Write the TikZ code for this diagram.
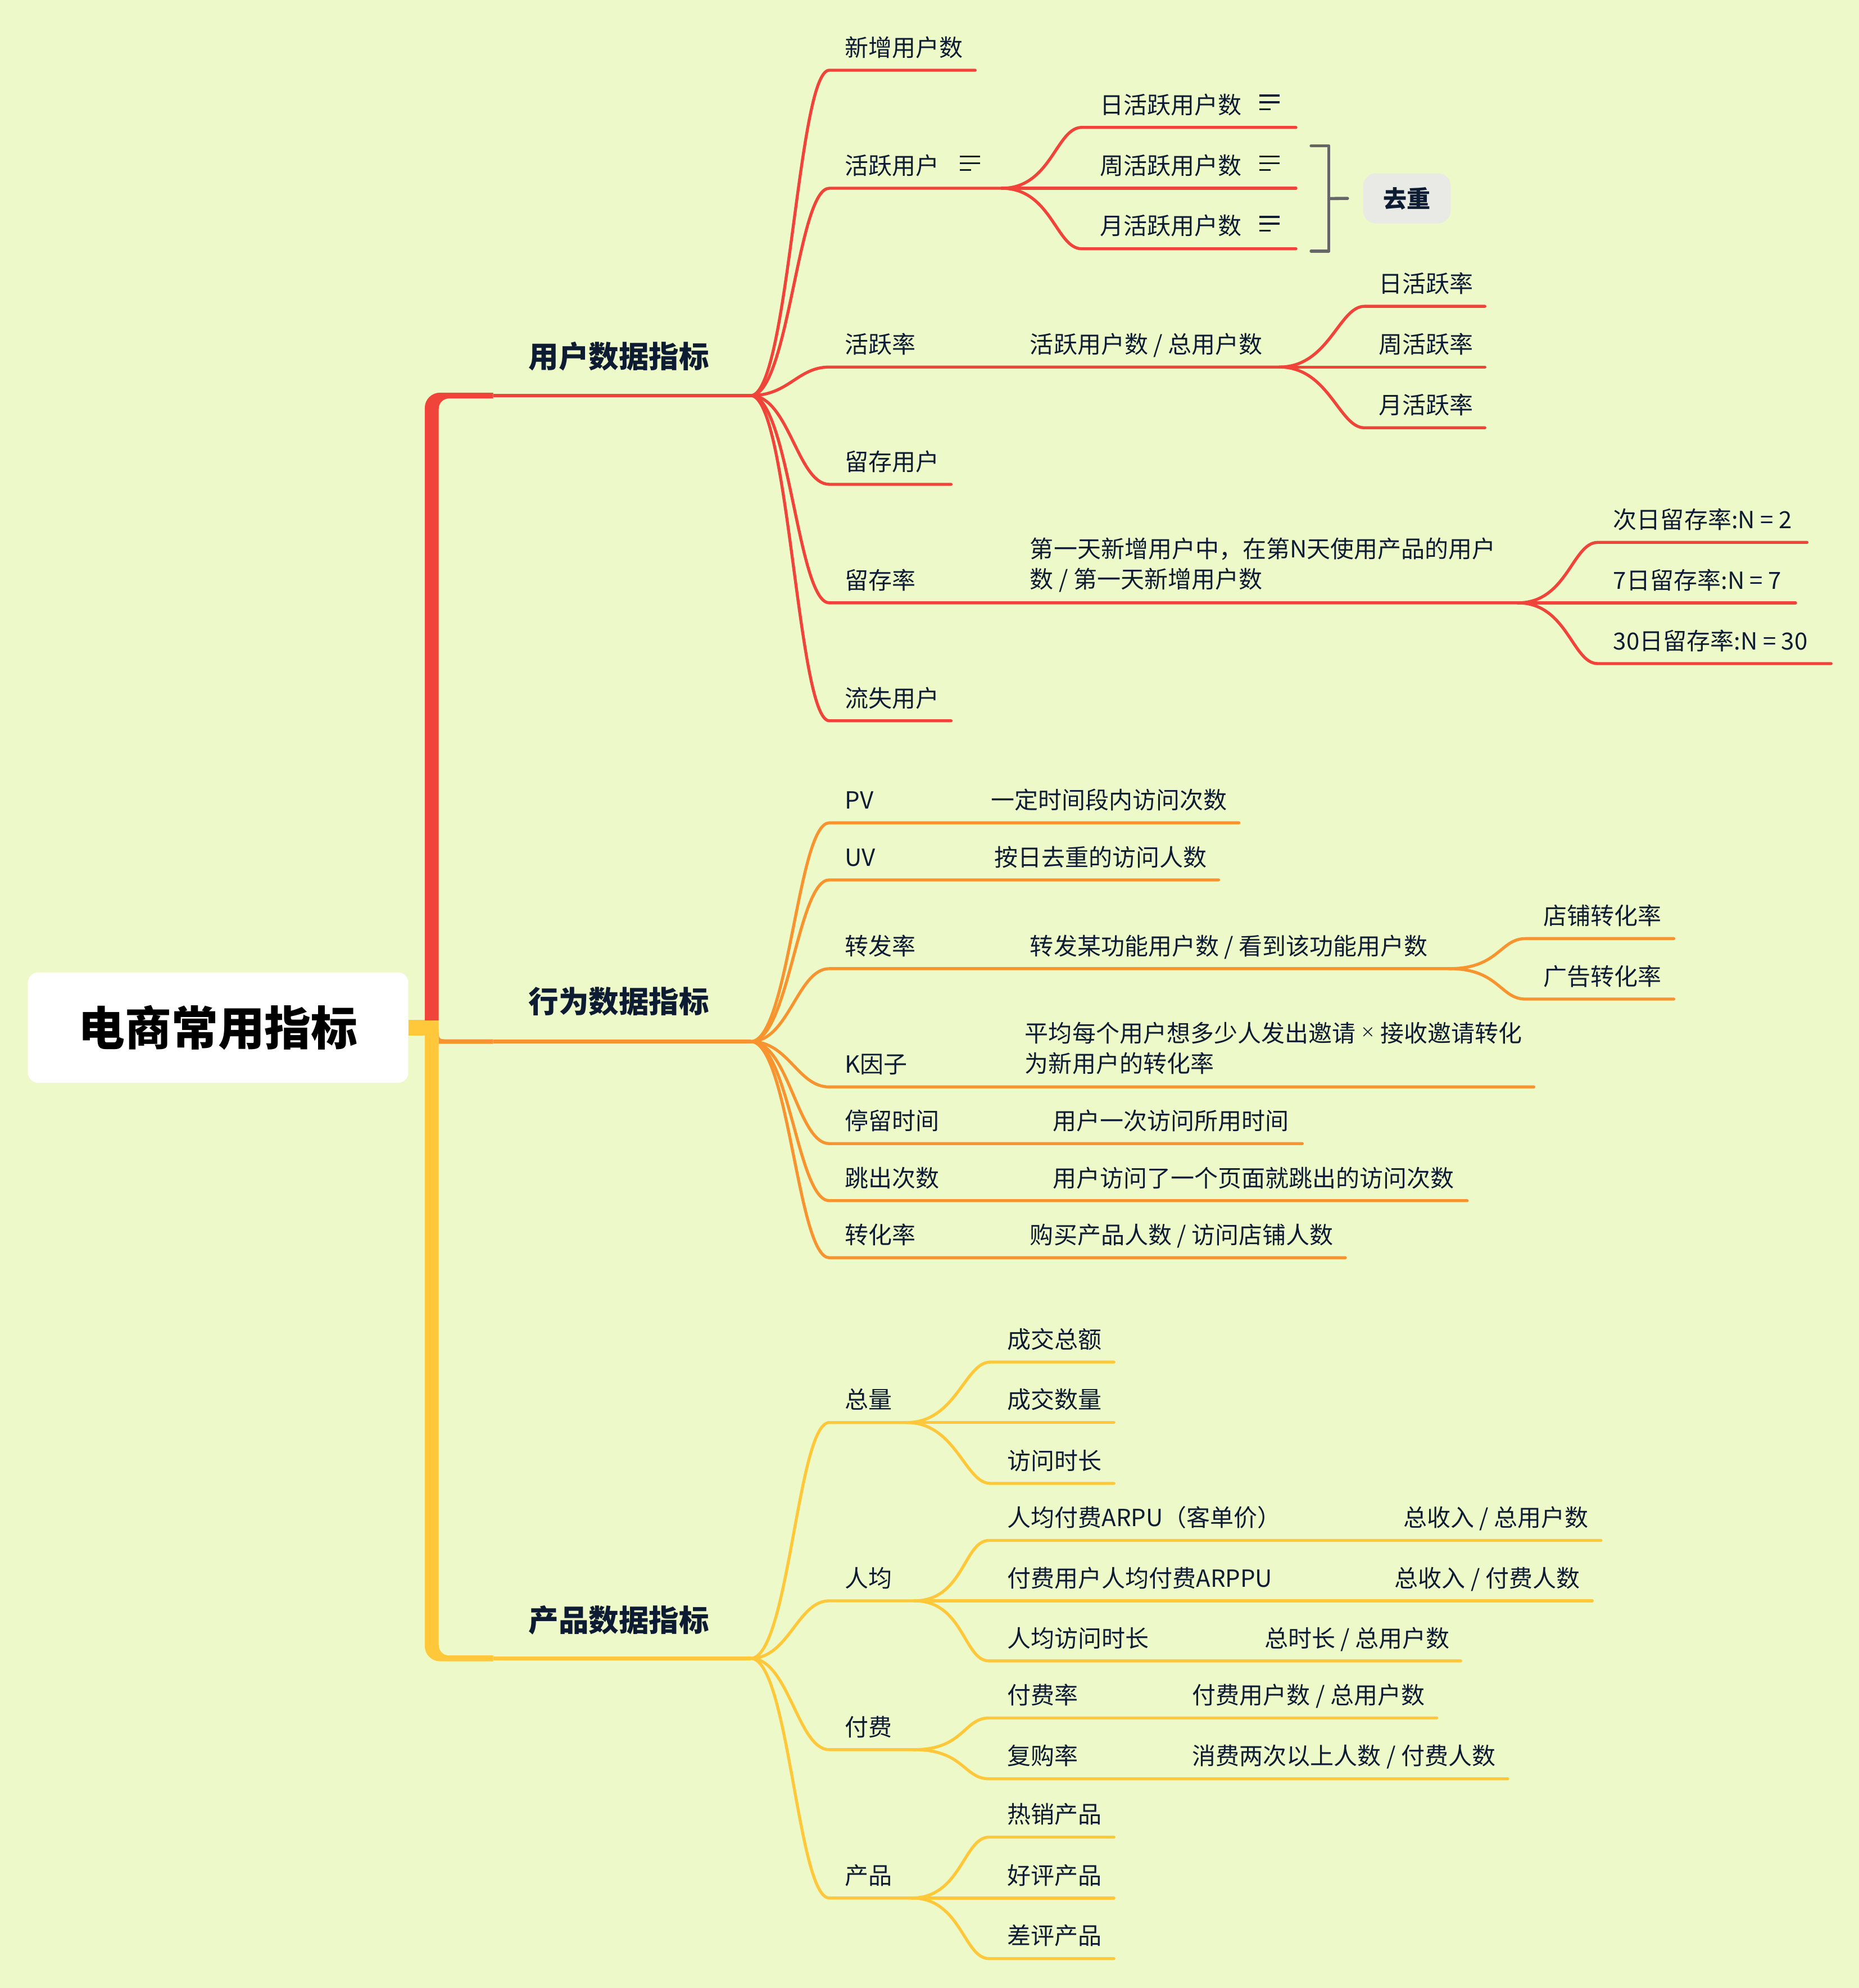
\documentclass[tikz,border=0pt]{standalone}
\usepackage{fontspec}
\setmainfont{Noto Sans CJK SC}
\usetikzlibrary{calc}

\definecolor{paper}{HTML}{EEF9C9}
\definecolor{redbr}{HTML}{F0443A}
\definecolor{orangebr}{HTML}{F8942F}
\definecolor{yellowbr}{HTML}{FEC83A}
\definecolor{ink}{HTML}{0E1C33}
\definecolor{bracketgray}{HTML}{666666}
\definecolor{taggray}{HTML}{E9EAE6}

\tikzset{
  rootbox/.style={fill=white, rounded corners=0.16cm, minimum width=6cm, minimum height=1.74cm, inner sep=0pt, text=black, font=\fontsize{20.9}{24}\selectfont\bfseries},
  major/.style={inner sep=0pt, text=ink, font=\fontsize{13.5}{16}\selectfont\bfseries},
  topic/.style={anchor=west, inner sep=0pt, text=ink, font=\fontsize{10.6}{13.6}\selectfont, text height=9.3pt, text depth=1.3pt},
  note/.style={anchor=west, inner sep=0pt, text=ink, font=\fontsize{10.6}{13.6}\selectfont, align=left},
  tag/.style={fill=taggray, rounded corners=0.2cm, minimum width=1.38cm, minimum height=0.79cm, inner sep=0pt, text=ink, font=\fontsize{10.6}{12}\selectfont\bfseries},
  link/.style={line width=1.35pt, line cap=round, line join=round},
  stem/.style={line width=1.6pt},
  bracket/.style={draw=bracketgray, line width=1.4pt, line cap=round, line join=round},
  fanA/.style={out=0, in=180, out distance=0.6cm, in distance=0.5cm},
  fanB/.style={out=0, in=180, out distance=0.78cm, in distance=0.4cm},
  noteicon/.pic={\draw[ink, line width=0.03cm] (0,-7.2) -- (16,-7.2) (0,-1.8) -- (16,-1.8) (0,3.6) -- (9,3.6);}
}

\begin{document}
\begin{tikzpicture}[x=0.02cm, y=-0.02cm]
% canvas
\fill[paper] (0,0) rectangle (1466,1568);
\useasboundingbox (0,0) rectangle (1466,1568);

% root and trunk
\node[rootbox] (root) at (172,810.5) {电商常用指标};
\fill[yellowbr] (root.east) ++(0,-6) rectangle (341,817);
\fill[redbr] (335,805) -- (335,321.7) arc[start angle=180, end angle=270, radius=12] -- (389,309.7) -- (389,314.3) -- (354,314.3) arc[start angle=270, end angle=180, radius=8] -- (346,805) -- cycle;
\fill[yellowbr] (335,805) -- (335,1298.3) arc[start angle=180, end angle=90, radius=12] -- (389,1310.3) -- (389,1305.7) -- (354,1305.7) arc[start angle=90, end angle=180, radius=8] -- (346,805) -- cycle;
\fill[orangebr] (346,812) .. controls (346,819.7) .. (353,819.7) -- (389,819.7) -- (389,823.3) -- (346,823.3) -- cycle;

%% user branch
\coordinate (userstem) at (389,312);
\coordinate (userhub) at (592,312);
\draw[redbr, stem] (userstem) -- (userhub);
\node[major] (user) at (488,281) {用户数据指标};

\foreach \n/\y/\e/\t in {u1/55.4/769/新增用户数, u4/382/750/留存用户, u6/568.5/750/流失用户}{
  \coordinate (\n-s) at (654,\y);
  \coordinate (\n-e) at (\e,\y);
  \draw[link, redbr] (userhub) to[fanA] (\n-s) -- (\n-e);
  \node[topic] (\n) at (666,\y-18) {\t};
}

% active users
\coordinate (u2-s) at (654,148.5);
\coordinate (u2-hub) at (790,148.5);
\draw[link, redbr] (userhub) to[fanA] (u2-s) -- (u2-hub);
\node[topic] (u2) at (666,130.5) {活跃用户};
\pic at (757,130.5) {noteicon};
\foreach \n/\y/\t in {u2a/100.5/日活跃用户数, u2c/196.2/月活跃用户数}{
  \coordinate (\n-s) at (853,\y);
  \coordinate (\n-e) at (1022,\y);
  \draw[link, redbr] (u2-hub) to[fanB] (\n-s) -- (\n-e);
  \node[topic] (\n) at (867,\y-18) {\t};
  \pic at (993,\y-18) {noteicon};
}
\coordinate (u2b-e) at (1022,148.5);
\draw[link, redbr] (u2-hub) -- (u2b-e);
\node[topic] (u2b) at (867,130.5) {周活跃用户数};
\pic at (993,130.5) {noteicon};

% bracket
\coordinate (bk-top) at (1048,115);
\coordinate (bk-bot) at (1048,198);
\coordinate (bk-mid) at (1048,156.6);
\node[tag] (dedup) at (1109.5,156.5) {去重};
\draw[bracket] ($(bk-top)+(-14,0)$) -- (bk-top) -- (bk-bot) -- +(-14,0);
\draw[bracket] (bk-mid) -- ($(dedup.west)+(-12,0)$);

% active rate
\coordinate (u3-s) at (654,289.5);
\coordinate (u3-hub) at (1009,289.5);
\draw[link, redbr] (userhub) to[fanA] (u3-s) -- (u3-hub);
\node[topic] (u3) at (666,271.5) {活跃率};
\node[topic] (u3-note) at (812,271.5) {活跃用户数 / 总用户数};
\foreach \n/\y/\t in {u3a/241.6/日活跃率, u3c/337.4/月活跃率}{
  \coordinate (\n-s) at (1076,\y);
  \coordinate (\n-e) at (1171,\y);
  \draw[link, redbr] (u3-hub) to[fanB] (\n-s) -- (\n-e);
  \node[topic] (\n) at (1087,\y-18) {\t};
}
\coordinate (u3b-e) at (1171,289.5);
\draw[link, redbr] (u3-hub) -- (u3b-e);
\node[topic] (u3b) at (1087,271.5) {周活跃率};

% retention rate
\coordinate (u5-s) at (654,475.5);
\coordinate (u5-hub) at (1197,475.5);
\draw[link, redbr] (userhub) to[fanA] (u5-s) -- (u5-hub);
\node[topic] (u5) at (666,457.5) {留存率};
\node[note] (u5-note) at (812,445.5) {第一天新增用户中，在第N天使用产品的用户\\数 / 第一天新增用户数};
\foreach \n/\y/\e/\t in {u5a/427.8/1425/次日留存率:N = 2, u5c/523.4/1444/30日留存率:N = 30}{
  \coordinate (\n-s) at (1260,\y);
  \coordinate (\n-e) at (\e,\y);
  \draw[link, redbr] (u5-hub) to[fanB] (\n-s) -- (\n-e);
  \node[topic] (\n) at (1272,\y-18) {\t};
}
\coordinate (u5b-e) at (1416,475.5);
\draw[link, redbr] (u5-hub) -- (u5b-e);
\node[topic] (u5b) at (1272,457.5) {7日留存率:N = 7};

%% behaviour branch
\coordinate (behavstem) at (389,821.5);
\coordinate (behavhub) at (592,821.5);
\draw[orangebr, stem] (behavstem) -- (behavhub);
\node[major] (behav) at (488,790) {行为数据指标};

\foreach \n/\y/\e/\t/\dx/\d in {b1/649/977/PV/781/{一定时间段内访问次数}, b2/694/961/UV/784/{按日去重的访问人数}, b5/902/1027/停留时间/830/{用户一次访问所用时间}, b6/947/1157/跳出次数/830/{用户访问了一个页面就跳出的访问次数}, b7/992/1061/转化率/812/{购买产品人数 / 访问店铺人数}}{
  \coordinate (\n-s) at (654,\y);
  \coordinate (\n-e) at (\e,\y);
  \draw[link, orangebr] (behavhub) to[fanA] (\n-s) -- (\n-e);
  \node[topic] (\n) at (666,\y-18) {\t};
  \node[topic] (\n-note) at (\dx,\y-18) {\d};
}

% forwarding rate
\coordinate (b3-s) at (654,764);
\coordinate (b3-hub) at (1143,764);
\draw[link, orangebr] (behavhub) to[fanA] (b3-s) -- (b3-hub);
\node[topic] (b3) at (666,746) {转发率};
\node[topic] (b3-note) at (812,746) {转发某功能用户数 / 看到该功能用户数};
\foreach \n/\y/\t in {b3a/740.3/店铺转化率, b3b/788/广告转化率}{
  \coordinate (\n-s) at (1203,\y);
  \coordinate (\n-e) at (1320,\y);
  \draw[link, orangebr] (b3-hub) to[fanB] (\n-s) -- (\n-e);
  \node[topic] (\n) at (1217,\y-18) {\t};
}

% K factor
\coordinate (b4-s) at (654,857.3);
\coordinate (b4-e) at (1209.6,857.3);
\draw[link, orangebr] (behavhub) to[fanA] (b4-s) -- (b4-e);
\node[topic] (b4) at (666,839.3) {K因子};
\node[note] (b4-note) at (808,826.6) {平均每个用户想多少人发出邀请 \raisebox{2pt}{\fontsize{6.5}{8}\selectfont×} 接收邀请转化\\为新用户的转化率};

%% product branch
\coordinate (prodstem) at (389,1308);
\coordinate (prodhub) at (592,1308);
\draw[yellowbr, stem] (prodstem) -- (prodhub);
\node[major] (prod) at (488,1278) {产品数据指标};

% totals
\coordinate (p1-s) at (654,1122);
\coordinate (p1-hub) at (715,1122);
\draw[link, yellowbr] (prodhub) to[fanA] (p1-s) -- (p1-hub);
\node[topic] (p1) at (666,1104) {总量};
\foreach \n/\y/\t in {p1a/1074.3/成交总额, p1c/1170/访问时长}{
  \coordinate (\n-s) at (781,\y);
  \coordinate (\n-e) at (878.5,\y);
  \draw[link, yellowbr] (p1-hub) to[fanB] (\n-s) -- (\n-e);
  \node[topic] (\n) at (794,\y-18) {\t};
}
\coordinate (p1b-e) at (878.5,1122);
\draw[link, yellowbr] (p1-hub) -- (p1b-e);
\node[topic] (p1b) at (794,1104) {成交数量};

% per user
\coordinate (p2-s) at (654,1262.6);
\coordinate (p2-hub) at (721,1262.6);
\draw[link, yellowbr] (prodhub) to[fanA] (p2-s) -- (p2-hub);
\node[topic] (p2) at (666,1244.6) {人均};
\foreach \n/\y/\e/\t/\dx/\d in {p2a/1215/1262.5/人均付费ARPU（客单价）/1106.5/{总收入 / 总用户数}, p2c/1310/1152/人均访问时长/997/{总时长 / 总用户数}}{
  \coordinate (\n-s) at (780,\y);
  \coordinate (\n-e) at (\e,\y);
  \draw[link, yellowbr] (p2-hub) to[fanB] (\n-s) -- (\n-e);
  \node[topic] (\n) at (794,\y-18) {\t};
  \node[topic] (\n-note) at (\dx,\y-18) {\d};
}
\coordinate (p2b-e) at (1255.7,1262.6);
\draw[link, yellowbr] (p2-hub) -- (p2b-e);
\node[topic] (p2b) at (794,1244.6) {付费用户人均付费ARPPU};
\node[topic] (p2b-note) at (1099.6,1244.6) {总收入 / 付费人数};

% paying
\coordinate (p3-s) at (654,1380);
\coordinate (p3-hub) at (721,1380);
\draw[link, yellowbr] (prodhub) to[fanA] (p3-s) -- (p3-hub);
\node[topic] (p3) at (666,1362) {付费};
\foreach \n/\y/\e/\t/\d in {p3a/1355/1133/付费率/{付费用户数 / 总用户数}, p3b/1403/1189/复购率/{消费两次以上人数 / 付费人数}}{
  \coordinate (\n-s) at (780,\y);
  \coordinate (\n-e) at (\e,\y);
  \draw[link, yellowbr] (p3-hub) to[fanB] (\n-s) -- (\n-e);
  \node[topic] (\n) at (794,\y-18) {\t};
  \node[topic] (\n-note) at (940,\y-18) {\d};
}

% products
\coordinate (p4-s) at (654,1497);
\coordinate (p4-hub) at (719,1497);
\draw[link, yellowbr] (prodhub) to[fanA] (p4-s) -- (p4-hub);
\node[topic] (p4) at (666,1479) {产品};
\foreach \n/\y/\t in {p4a/1449/热销产品, p4c/1544.8/差评产品}{
  \coordinate (\n-s) at (780,\y);
  \coordinate (\n-e) at (878.5,\y);
  \draw[link, yellowbr] (p4-hub) to[fanB] (\n-s) -- (\n-e);
  \node[topic] (\n) at (794,\y-18) {\t};
}
\coordinate (p4b-e) at (878.5,1497);
\draw[link, yellowbr] (p4-hub) -- (p4b-e);
\node[topic] (p4b) at (794,1479) {好评产品};
\end{tikzpicture}
\end{document}
